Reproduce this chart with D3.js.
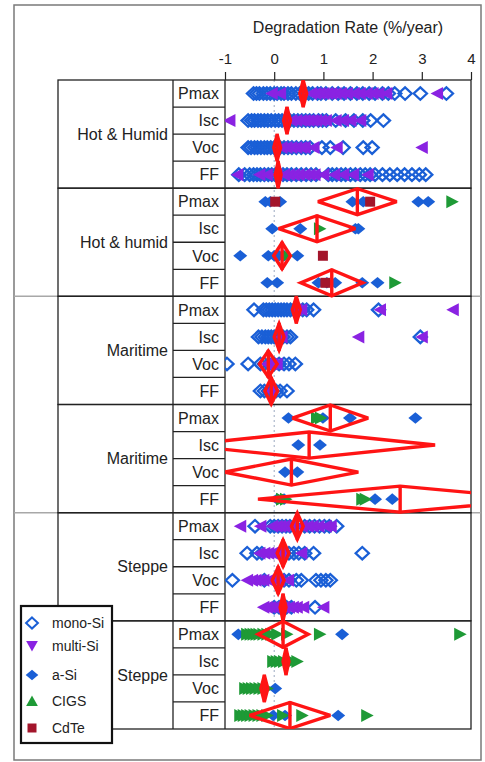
<!DOCTYPE html>
<html>
<head>
<meta charset="utf-8">
<script src="https://cdn.jsdelivr.net/npm/d3@7"></script>
<style>
  body { margin: 0; background: #fff; }
  text { font-family: "Liberation Sans", Arial, sans-serif; fill: #222; }
</style>
</head>
<body>
<div id="chart"></div>
<script>
// groups (rows of 4 parameters each) and parameters
const groupNames = ["Hot & Humid", "Hot & humid", "Maritime", "Maritime", "Steppe", "Steppe"];
const params = ["Pmax", "Isc", "Voc", "FF"];
const techNames = ["mono-Si", "multi-Si", "a-Si", "CIGS", "CdTe"];
const xTicks = [-1, 0, 1, 2, 3, 4];

// degradation rates, [group][param] -> values (%/year)
const monoSi = [
  [[-0.42,-0.36,-0.3,-0.22,-0.15,-0.08,0.0,0.06,0.14,0.2,0.28,0.35,0.44,0.52,0.63,0.7,0.78,0.88,0.95,1.05,1.18,1.3,1.42,1.55,1.68,1.8,1.93,2.05,2.2,2.32,2.45,2.66,2.97,3.5],
   [-0.53,-0.46,-0.4,-0.33,-0.27,-0.2,-0.13,-0.06,0.02,0.09,0.16,0.24,0.32,0.4,0.48,0.56,0.64,0.72,0.8,0.9,0.98,1.06,1.25,1.45,1.62,1.8,1.96,2.22],
   [-0.53,-0.47,-0.4,-0.34,-0.27,-0.2,-0.14,-0.07,0.0,0.05,0.12,0.2,0.28,0.36,0.45,0.55,0.64,0.73,0.97,1.14,1.4,1.81,1.99],
   [-0.72,-0.6,-0.5,-0.42,-0.35,-0.28,-0.2,-0.12,-0.05,0.02,0.1,0.18,0.26,0.35,0.45,0.55,0.65,0.75,0.85,1.1,1.18,1.27,1.36,1.45,1.55,1.65,1.75,1.85,1.95,2.05,2.2,2.35,2.5,2.65,2.8,2.95,3.08]],
  [[], [], [], []],
  [[-0.41,-0.22,-0.16,-0.1,-0.04,0.02,0.08,0.14,0.2,0.26,0.33,0.4,0.5,0.58,0.66,0.8,2.12],
   [-0.32,-0.25,-0.18,-0.12,-0.06,0.0,0.06,0.12,0.18,0.26,0.33,2.97],
   [-0.96,-0.53,-0.28,-0.2,-0.1,0.0,0.1,0.2,0.3,0.43],
   [-0.28,-0.2,-0.12,-0.04,0.04,0.12,0.26]],
  [[], [], [], []],
  [[-0.39,-0.08,0.0,0.08,0.16,0.24,0.32,0.42,0.52,0.62,0.72,0.82,0.92,1.02,1.12,1.27],
   [-0.55,-0.35,-0.25,0.2,0.3,0.4,0.5,0.62,0.8,1.79],
   [-0.85,-0.2,0.05,0.2,0.3,0.45,0.55,0.85,0.95,1.05,1.14],
   [0.0,0.1,0.25,0.35,0.83]],
  [[], [], [], []]
];
const multiSi = [
  [[-0.05,0.12,0.75,0.84,0.92,1.0,1.08,1.16,1.25,1.36,1.48,1.62,1.74,1.88,2.0,2.12,2.28,3.31],
   [-0.91,0.35,0.45,0.55,0.62,0.7,0.78,0.85,0.95,1.05,1.25,1.4,1.55,1.75],
   [0.15,0.25,0.35,0.45,0.55,0.62,0.8,1.27,3.0],
   [-0.75,-0.3,-0.15,0.05,0.2,0.3,0.4,0.5,0.62,0.72,0.82,1.0,1.22,1.4,1.6,1.9]],
  [[], [], [], []],
  [[0.45,0.55,2.15,3.63], [0.15,1.71,3.0], [-0.15,-0.05,0.05], [-0.08]],
  [[], [], [], []],
  [[-0.69,-0.28,-0.04,0.05,0.12,0.2,0.3,0.38,0.56,0.68,0.78,0.9,1.05,1.15],
   [-0.3,-0.2,-0.12,-0.04,0.04,0.1,0.15,0.55],
   [-0.55,-0.45,-0.38,-0.3,-0.22,-0.12,0.0,0.1,0.28],
   [-0.22,-0.15,-0.08,0.0,0.05,0.12,0.2,0.3,0.38,0.46,0.59,1.0]],
  [[], [], [], []]
];
const aSi = [
  [[], [], [], []],
  [[-0.18,-0.08,0.12,1.59,1.81,2.93,3.13], [-0.04,0.53,1.65,1.71], [-0.69,-0.12,0.0,0.1,0.2,0.47], [-0.14,0.06,0.9,1.07,1.24,1.79,2.1]],
  [[], [], [], []],
  [[0.29,0.99,1.54,2.87], [0.49,0.93], [0.22,0.47], [0.06,0.2,2.05,2.4]],
  [[], [], [], []],
  [[-0.73,1.38], [], [0.02], [-0.02,0.22,1.3]]
];
const cigs = [
  [[], [], [], []],
  [[3.62], [0.93], [0.26], [2.46]],
  [[], [], [], []],
  [[0.87,0.95], [], [], [0.16,0.24,1.79,1.86]],
  [[], [], [], []],
  [[-0.55,-0.48,-0.42,-0.36,-0.3,-0.22,-0.14,-0.06,0.06,0.26,0.93,3.78],
   [-0.02,0.05,0.12,0.2,0.3,0.38,0.47],
   [-0.59,-0.52,-0.45,-0.38,-0.3,-0.22,-0.14],
   [-0.69,-0.62,-0.55,-0.48,-0.4,-0.32,-0.24,-0.14,0.18,0.57,1.89]]
];
const cdTe = [
  [[], [], [], []],
  [[0.02,1.95], [], [0.99], [1.04]],
  [[], [], [], []],
  [[], [], [], []],
  [[], [], [], []],
  [[], [], [], []]
];

// mean diamonds: group mean and half width of the confidence interval
const meanRate = [
  [0.59, 0.26, 0.06, 0.08],
  [1.69, 0.87, 0.16, 1.17],
  [0.45, 0.10, -0.12, -0.06],
  [1.14, 0.71, 0.35, 2.56],
  [0.47, 0.18, 0.08, 0.18],
  [0.18, 0.24, -0.20, 0.32]
];
const ciHalf = [
  [0.07, 0.07, 0.07, 0.06],
  [0.80, 0.78, 0.17, 0.63],
  [0.08, 0.10, 0.18, 0.13],
  [0.77, 2.56, 1.36, 2.89],
  [0.12, 0.12, 0.12, 0.06],
  [0.51, 0.06, 0.07, 0.82]
];

const config = {
  div: "#chart", width: 485, height: 762,
  frame: { x0: 14, y0: 5, x1: 481, y1: 760 },
  colZone: 58, colGroup: 173, colParam: 225, plotRight: 471,
  top: 80, bottom: 729
};
const colors = { mono: "#1a5fd6", multi: "#8a22e2", asi: "#1a5fd6", cigs: "#1e9a36", cdte: "#a3152b", mean: "#ff1414" };

const svg = d3.select(config.div).append("svg")
  .attr("width", config.width)
  .attr("height", config.height);

const x = d3.scaleLinear().domain([-1, 4]).range([config.colParam, config.plotRight]);
const rowIds = d3.range(groupNames.length * params.length);
const y = d3.scaleBand().domain(rowIds).range([config.top, config.bottom]);
const bw = y.bandwidth();
const yc = r => y(r) + bw / 2;

// marker shapes (the chart is rotated, so the triangles point sideways)
function shape(kind) {
  switch (kind) {
    case "open": return "M0,-6.2L6.6,0L0,6.2L-6.6,0Z";
    case "diamond": return "M0,-5.8L7,0L0,5.8L-7,0Z";
    case "left": return "M-6.5,0L6,-6.5L6,6.5Z";
    case "right": return "M6.5,0L-6,-6.5L-6,6.5Z";
    case "down": return "M-6.5,-5.5L6.5,-5.5L0,6Z";
    case "up": return "M-6.5,5.5L6.5,5.5L0,-6Z";
    case "square": return "M-5,-5h10v10h-10Z";
  }
}

// outer frame
svg.append("rect")
  .attr("x", config.frame.x0).attr("y", config.frame.y0)
  .attr("width", config.frame.x1 - config.frame.x0)
  .attr("height", config.frame.y1 - config.frame.y0)
  .attr("fill", "none").attr("stroke", "#7a7a7a").attr("stroke-width", 1.5);

// climate zone separators (light, full width)
[2, 4].forEach(g => {
  svg.append("line")
    .attr("x1", config.frame.x0).attr("x2", config.frame.x1)
    .attr("y1", y(g * 4)).attr("y2", y(g * 4))
    .attr("stroke", "#a8a8a8").attr("stroke-width", 1.5);
});

// zero reference line
svg.append("line")
  .attr("x1", x(0)).attr("x2", x(0))
  .attr("y1", config.top).attr("y2", config.bottom)
  .attr("stroke", "#9aa8c0").attr("stroke-width", 1)
  .attr("stroke-dasharray", "2,3");

// group boxes
groupNames.forEach((name, g) => {
  const y0 = y(g * 4), y1 = y(g * 4 + 3) + bw;
  svg.append("rect")
    .attr("x", config.colZone).attr("y", y0)
    .attr("width", config.plotRight - config.colZone).attr("height", y1 - y0)
    .attr("fill", "none").attr("stroke", "#222").attr("stroke-width", 1.3);
  svg.append("text")
    .attr("x", 168).attr("y", (y0 + y1) / 2)
    .attr("dy", "0.35em")
    .style("text-anchor", "end")
    .style("font-size", "16px")
    .text(name);
});

// column lines
[config.colGroup, config.colParam].forEach(cx => {
  svg.append("line")
    .attr("x1", cx).attr("x2", cx)
    .attr("y1", config.top).attr("y2", config.bottom)
    .attr("stroke", "#222").attr("stroke-width", 1.3);
});

// parameter labels and their separators
rowIds.forEach(r => {
  const p = r % 4;
  svg.append("text")
    .attr("x", 219).attr("y", yc(r))
    .attr("dy", "0.36em")
    .style("text-anchor", "end")
    .style("font-size", "16px")
    .text(params[p]);
  if (p < 3) {
    svg.append("line")
      .attr("x1", config.colGroup).attr("x2", config.colParam)
      .attr("y1", y(r) + bw).attr("y2", y(r) + bw)
      .attr("stroke", "#222").attr("stroke-width", 1.3);
  }
});

// top axis
const axis = svg.append("g")
  .attr("transform", `translate(0,${config.top})`)
  .call(d3.axisTop(x).tickValues(xTicks).tickSize(8).tickSizeOuter(0).tickFormat(d3.format("d")));
axis.select(".domain").remove();
axis.selectAll(".tick line").attr("stroke", "#222").attr("stroke-width", 1.2);
axis.selectAll(".tick text")
  .attr("y", -16)
  .style("font-family", "'Liberation Sans', Arial, sans-serif")
  .style("font-size", "15px").attr("fill", "#222")
  .text(d => d < 0 ? "-" + Math.abs(d) : d);

svg.append("text")
  .attr("x", 348).attr("y", 33)
  .style("text-anchor", "middle")
  .style("font-size", "16px")
  .text("Degradation Rate (%/year)");

// plot clip
svg.append("clipPath").attr("id", "plotclip")
  .append("rect")
  .attr("x", config.colParam).attr("y", config.top)
  .attr("width", config.plotRight - config.colParam)
  .attr("height", config.bottom - config.top);

const plot = svg.append("g").attr("clip-path", "url(#plotclip)");

// points per technology
const series = [
  { data: monoSi, kind: "open", fill: "none", stroke: colors.mono },
  { data: multiSi, kind: "left", fill: colors.multi, stroke: "none" },
  { data: aSi, kind: "diamond", fill: colors.asi, stroke: "none" },
  { data: cigs, kind: "right", fill: colors.cigs, stroke: "none" },
  { data: cdTe, kind: "square", fill: colors.cdte, stroke: "none" }
];
series.forEach(s => {
  const pts = [];
  s.data.forEach((grp, g) => grp.forEach((vals, p) => vals.forEach(v => pts.push({ r: g * 4 + p, v }))));
  plot.append("g").selectAll("path")
    .data(pts)
    .enter().append("path")
      .attr("d", shape(s.kind))
      .attr("transform", d => `translate(${x(d.v)},${yc(d.r)})`)
      .attr("fill", s.fill)
      .attr("stroke", s.stroke)
      .attr("stroke-width", 2.3);
});

// mean diamonds
const diamonds = [];
meanRate.forEach((row, g) => row.forEach((m, p) => diamonds.push({ r: g * 4 + p, m, h: ciHalf[g][p] })));
const dh = bw / 2 - 0.5;
const dg = plot.append("g");
dg.selectAll("path")
  .data(diamonds)
  .enter().append("path")
    .attr("d", d => `M${x(d.m - d.h)},${yc(d.r)}L${x(d.m)},${yc(d.r) - dh}L${x(d.m + d.h)},${yc(d.r)}L${x(d.m)},${yc(d.r) + dh}Z`)
    .attr("fill", "none")
    .attr("stroke", colors.mean)
    .attr("stroke-width", 3.4)
    .attr("stroke-linejoin", "miter")
    .attr("stroke-miterlimit", 3);
dg.selectAll("line")
  .data(diamonds)
  .enter().append("line")
    .attr("x1", d => x(d.m)).attr("x2", d => x(d.m))
    .attr("y1", d => yc(d.r) - dh - 1).attr("y2", d => yc(d.r) + dh + 1)
    .attr("stroke", colors.mean)
    .attr("stroke-width", 3.4);

// legend
const legendKinds = [
  { kind: "open", fill: "#fff", stroke: colors.mono, y: 623 },
  { kind: "down", fill: colors.multi, stroke: "none", y: 646 },
  { kind: "diamond", fill: colors.asi, stroke: "none", y: 675 },
  { kind: "up", fill: colors.cigs, stroke: "none", y: 701 },
  { kind: "square", fill: colors.cdte, stroke: "none", y: 728 }
];
const legend = svg.append("g");
legend.append("rect")
  .attr("x", 21).attr("y", 606).attr("width", 91).attr("height", 137)
  .attr("fill", "#fff").attr("stroke", "#111").attr("stroke-width", 2.2);
legend.selectAll("path")
  .data(legendKinds)
  .enter().append("path")
    .attr("d", d => shape(d.kind))
    .attr("transform", d => `translate(32,${d.y}) scale(0.9)`)
    .attr("fill", d => d.fill)
    .attr("stroke", d => d.stroke)
    .attr("stroke-width", 2.2);
legend.selectAll("text")
  .data(techNames)
  .enter().append("text")
    .attr("x", 52).attr("y", (d, i) => legendKinds[i].y)
    .attr("dy", "0.35em")
    .style("font-size", "14px")
    .text(d => d);
</script>
</body>
</html>
